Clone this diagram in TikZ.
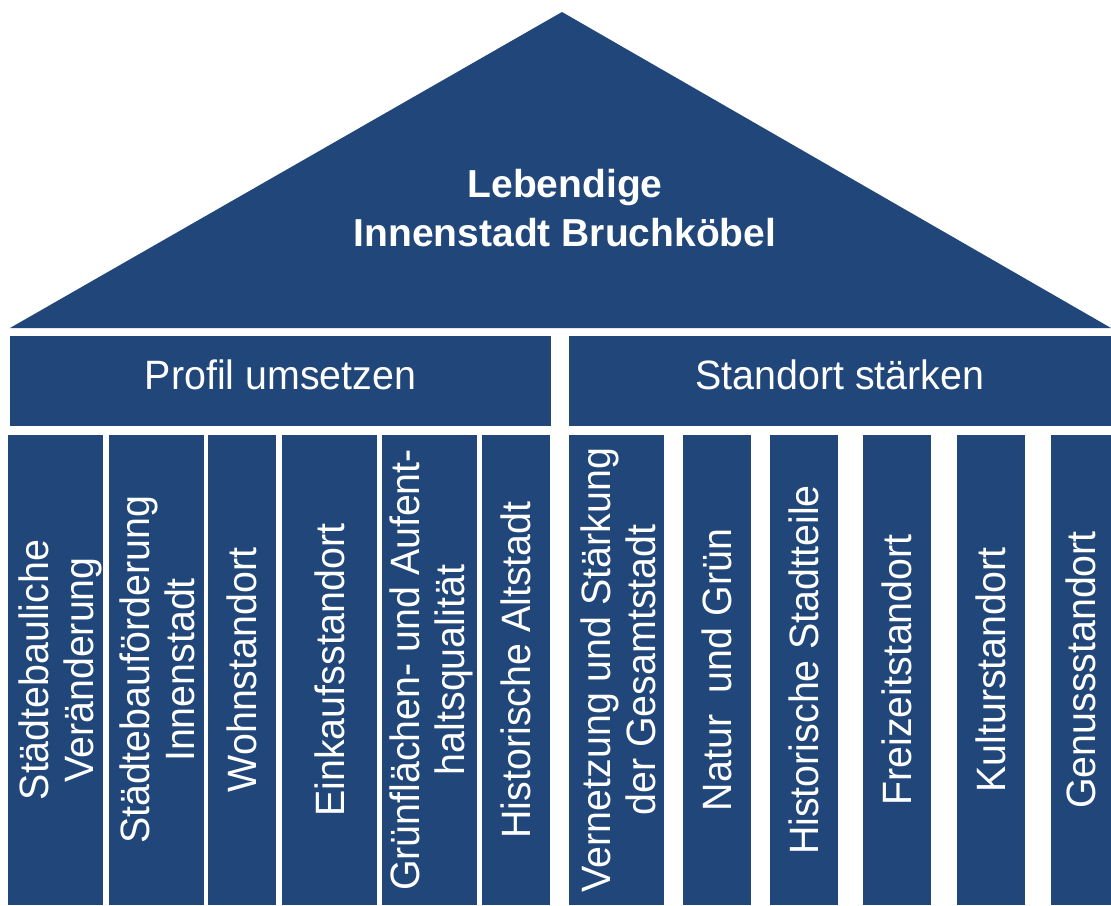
\documentclass[tikz,border=0pt]{standalone}
\usepackage{fontspec}
\setmainfont{Liberation Sans}
\newfontfamily\pillarfont[FakeStretch=0.96]{Liberation Sans}
\definecolor{houseblue}{RGB}{32,70,122}
\begin{document}
\begin{tikzpicture}[x=1pt,y=-1pt,
	part/.style={fill=houseblue},
	pillartext/.style={text=white,rotate=90,align=center,font=\pillarfont\fontsize{41}{45}\selectfont},
	beamtext/.style={text=white,anchor=base,font=\pillarfont\fontsize{41}{44}\selectfont},
	rooftext/.style={text=white,align=center,font=\bfseries\fontsize{39}{49}\selectfont}]
					\useasboundingbox (0,0) rectangle (1111,905); %page
					\fill[part] (10,328)--(562,12)--(1111,328)--cycle; %roof
					\node[rooftext] (roof) at (565,208.5) {Lebendige\\Innenstadt Bruchköbel}; %roof label
					\fill[part] (10,336) rectangle (551,426); %left beam
					\fill[part] (569,336) rectangle (1111,426); %right beam
					\node[beamtext] (profil) at (280.5,389) {Profil umsetzen}; %left beam label
					\node[beamtext] (standort) at (840,389) {Standort stärken}; %right beam label
					\fill[part] (8,435) rectangle (103,905); %left pillars
					\fill[part] (109,435) rectangle (204,905);
					\fill[part] (208,435) rectangle (276,905);
					\fill[part] (282,435) rectangle (377,905);
					\fill[part] (382,435) rectangle (477,905);
					\fill[part] (482,435) rectangle (550,905);
					\fill[part] (569,435) rectangle (664,905); %right pillars
					\fill[part] (683,435) rectangle (751,905);
					\fill[part] (770,435) rectangle (838,905);
					\fill[part] (863,435) rectangle (931,905);
					\fill[part] (957,435) rectangle (1025,905);
					\fill[part] (1051,435) rectangle (1111,905);
					\node[pillartext] (veraenderung) at (60,670) {Städtebauliche\\Veränderung}; %left pillar labels
					\node[pillartext] (foerderung) at (157,670) {Städtebauförderung\\Innenstadt};
					\node[pillartext] (wohnen) at (242,670) {Wohnstandort};
					\node[pillartext] (einkauf) at (329.5,670) {Einkaufsstandort};
					\node[pillartext] (gruen) at (431,670) {Grünflächen- und Aufent-\\haltsqualität};
					\node[pillartext] (altstadt) at (516,670) {Historische Altstadt};
					\node[pillartext] (vernetzung) at (618,670) {Vernetzung und Stärkung\\der Gesamtstadt}; %right pillar labels
					\node[pillartext] (natur) at (717,670) {Natur~~und Grün};
					\node[pillartext] (stadtteile) at (804,670) {Historische Stadtteile};
					\node[pillartext] (freizeit) at (897,670) {Freizeitstandort};
					\node[pillartext] (kultur) at (991,670) {Kulturstandort};
					\node[pillartext] (genuss) at (1081,670) {Genussstandort};
				\end{tikzpicture}
\end{document}
